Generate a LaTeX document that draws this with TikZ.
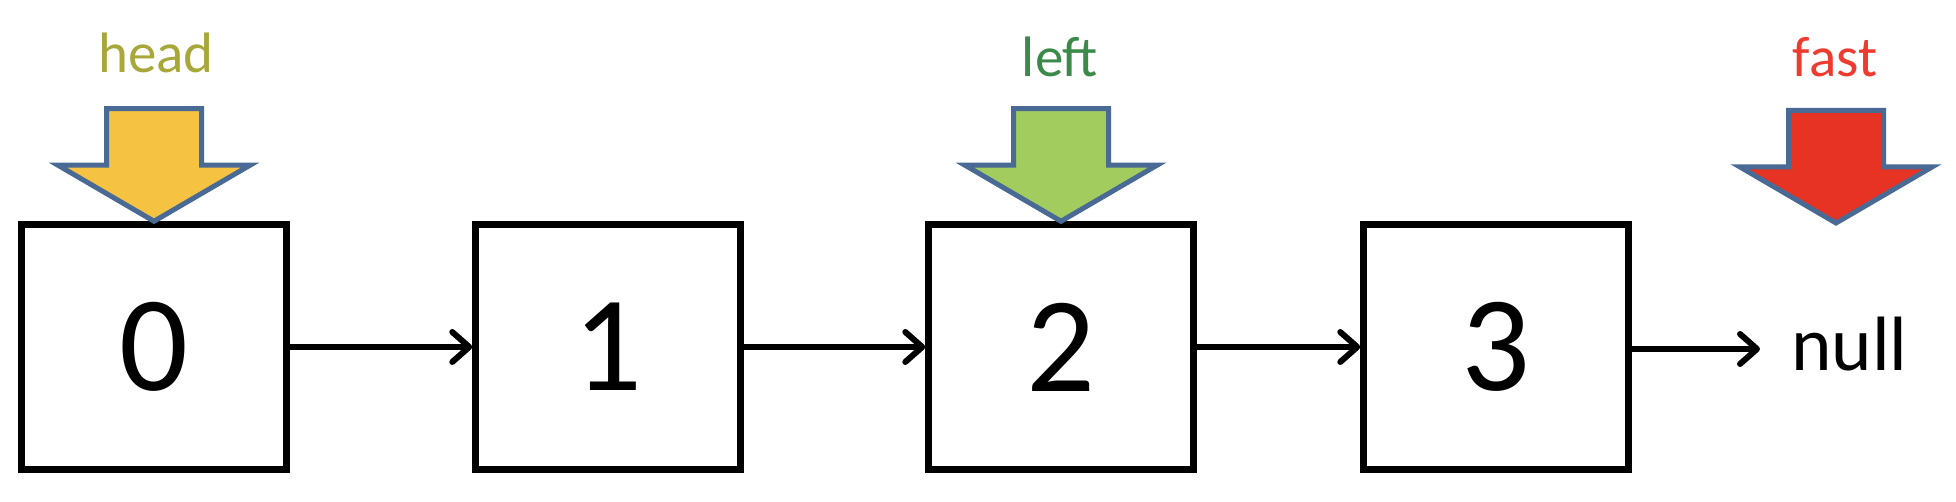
\documentclass[tikz,border=0pt]{standalone}
\usepackage{fontspec}
\setmainfont{Carlito}
\usetikzlibrary{arrows.meta}
\definecolor{outl}{HTML}{4A6A96}
\definecolor{yel}{HTML}{F5C242}
\definecolor{grn}{HTML}{A2CD5E}
\definecolor{red1}{HTML}{E73323}
\definecolor{headtxt}{HTML}{A8A83A}
\definecolor{lefttxt}{HTML}{3B8A4A}
\definecolor{fasttxt}{HTML}{EE3B2F}
\tikzset{
  box/.style={draw=black, line width=6.5pt, minimum width=265pt, minimum height=245pt, inner sep=0pt,
    font=\fontsize{136}{140}\selectfont},
  link/.style={line width=6pt, -{Straight Barb[length=17pt,width=30pt,line width=6pt,line cap=round,line join=round]}},
  ptr/.style={draw=outl, line width=5pt, line join=miter},
  lbl/.style={anchor=base, inner sep=0pt, font=\fontsize{57}{60}\selectfont},
}
\newcommand\ptrshape[2]{%
  \begin{scope}[shift={(#1)}]
    \filldraw[ptr, fill=#2] (-47.5,112.5) -- (47.5,112.5) -- (47.5,56) -- (96,56) -- (0,0) -- (-96,56) -- (-47.5,56) -- cycle;
  \end{scope}}
\begin{document}
\begin{tikzpicture}[x=1pt,y=1pt]
\useasboundingbox (0,0) rectangle (1956,502);
\node[box] (b0) at (154,155) {0};
\node[box] (b1) at (608,155) {1};
\node[box] (b2) at (1061,155) {2};
\node[box] (b3) at (1496,155) {3};
\node[anchor=base west, inner sep=0pt, font=\fontsize{77}{80}\selectfont] (nul) at (1791,131) {null};
\coordinate (nulin) at (1760,153);
\draw[link] (b0.east) -- (b1.west);
\draw[link] (b1.east) -- (b2.west);
\draw[link] (b2.east) -- (b3.west);
\draw[link] (b3.east |- nulin) -- (nulin);
\coordinate (fastpt) at (1836,279);
\ptrshape{b0.north}{yel}
\ptrshape{b2.north}{grn}
\ptrshape{fastpt}{red1}
\node[lbl, text=headtxt] (hl) at (156,429) {head};
\node[lbl, text=lefttxt] (ll) at (1060,425) {left};
\node[lbl, text=fasttxt] (fl) at (1835,425) {fast};
\end{tikzpicture}
\end{document}
